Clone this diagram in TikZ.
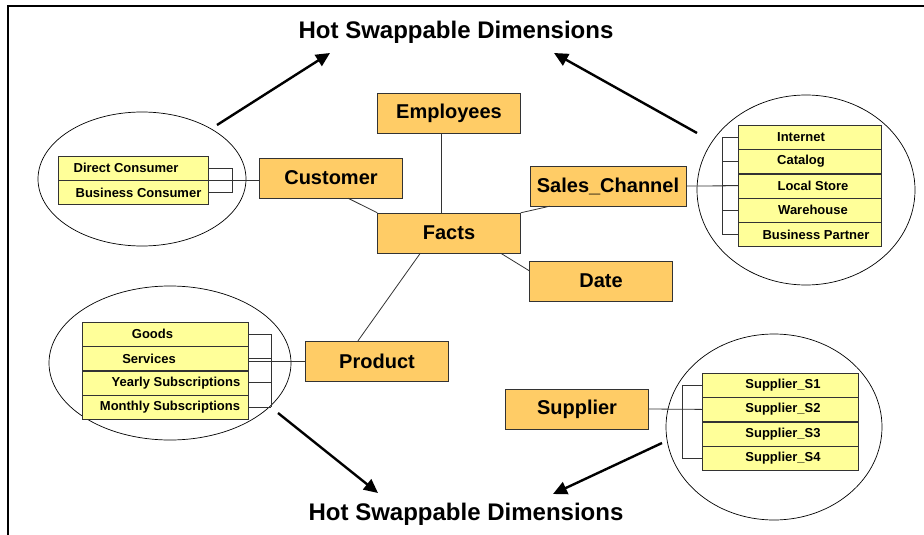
\documentclass[tikz,border=0pt]{standalone}
\usepackage{fontspec}
\setsansfont{Liberation Sans}
\usepackage{tikz}
\usetikzlibrary{arrows.meta,positioning,shapes.geometric}
\tikzset{
  dim/.style={draw=edge, fill=dimfill, font=\sffamily\bfseries\fontsize{20}{24}\selectfont, minimum width=#1, minimum height=40pt, inner sep=0pt},
  dim/.default=143pt,
  item/.style={draw=edge, fill=itemfill, font=\sffamily\bfseries\fontsize{13}{15}\selectfont, minimum width=#1, minimum height=24pt, inner sep=0pt},
  nudge/.style={execute at begin node={\hspace*{#1}}},
  ell/.style={draw, ellipse, inner sep=0pt, line width=0.7pt},
  link/.style={draw=edge, line width=0.8pt},
  swap/.style={-{Triangle[length=14pt,width=13pt]}, line width=2.4pt},
  hdr/.style={font=\sffamily\bfseries\fontsize{24}{28}\selectfont},
}
\definecolor{dimfill}{HTML}{FFCC66}
\definecolor{itemfill}{HTML}{FFFF99}
\definecolor{edge}{HTML}{333333}

\begin{document}
\begin{tikzpicture}[x=1pt, y=-1pt]
  \useasboundingbox (0,0) rectangle (924,535);
  \draw[line width=2.2pt] (924,6) -- (8,6) -- (8,535);

  % headings
  \node[hdr] (hsTop) at (456,32) {Hot Swappable Dimensions};
  \node[hdr] (hsBot) at (466,514) {Hot Swappable Dimensions};

  % star schema
  \node[dim] (emp) at (449,113) {Employees};
  \node[dim] (cust) at (331,178) {Customer};
  \node[dim=156pt] (sales) at (608,186) {Sales\_Channel};
  \node[dim] (facts) at (449,233) {Facts};
  \node[dim] (date) at (601,281) {Date};
  \node[dim] (prod) at (377,361) {Product};
  \node[dim] (sup) at (577,409) {Supplier};

  \draw[link] ([xshift=-8pt]emp.south) -- ([xshift=-8pt]facts.north);
  \draw[link] ([xshift=17pt]cust.south) -- (facts.north west);
  \draw[link] ([xshift=20pt]sales.south west) -- (facts.north east);
  \draw[link] ([xshift=-20pt]facts.south east) -- ([yshift=-10pt]date.north west);
  \draw[link] ([xshift=43pt]facts.south west) -- ([xshift=-19pt]prod.north);

  % customer variants
  \node[ell, minimum width=208pt, minimum height=134pt] (custEll) at (142,179) {};
  \node[item=150pt, nudge=-14pt] (dc) at (133,168) {Direct Consumer};
  \node[item=150pt, nudge=11pt, below=0pt of dc] (bc) {Business Consumer};
  \coordinate (custBar) at (232,0);
  \draw[link] (dc.east) -- (dc.east -| custBar) -- (bc.east -| custBar) -- (bc.east);
  \draw[link] (cust.west |- dc.south east) -- (dc.south east);

  % sales channel variants
  \node[ell, minimum width=218pt, minimum height=190pt] (salesEll) at (806,190) {};
  \node[item=143pt, nudge=-18pt] (inet) at (810,137) {Internet};
  \node[item=143pt, nudge=-18pt, below=0pt of inet] (cat) {Catalog};
  \node[item=143pt, nudge=6pt, below=0pt of cat] (loc) {Local Store};
  \node[item=143pt, nudge=6pt, below=0pt of loc] (wh) {Warehouse};
  \node[item=143pt, nudge=12pt, below=0pt of wh] (bp) {Business Partner};
  \coordinate (salesBar) at (722,0);
  \foreach \r in {inet,cat,loc,wh,bp} \draw[link] (\r.west) -- (\r.west -| salesBar);
  \draw[link] (inet.west -| salesBar) -- (bp.west -| salesBar);
  \draw[link] (sales.east) -- (loc.west);

  % product variants
  \node[ell, minimum width=242pt, minimum height=154pt] (prodEll) at (170,363) {};
  \node[item=166pt, nudge=-25pt] (goods) at (165,334) {Goods};
  \node[item=166pt, nudge=-32pt, below=0pt of goods] (serv) {Services};
  \node[item=166pt, nudge=22pt, below=0pt of serv] (yearly) {Yearly Subscriptions};
  \node[item=166pt, nudge=10pt, below=0pt of yearly] (monthly) {Monthly Subscriptions};
  \coordinate (prodBar) at (271,0);
  \foreach \r in {goods,serv,yearly,monthly} \draw[link] (\r.east) -- (\r.east -| prodBar);
  \draw[link] (goods.east -| prodBar) -- (monthly.east -| prodBar);
  \draw[link] (prod.west) -- (prod.west -| serv.east);

  % supplier variants
  \node[ell, minimum width=216pt, minimum height=186pt] (supEll) at (774,427) {};
  \node[item=156pt, nudge=6pt] (s1) at (780,385) {Supplier\_S1};
  \node[item=156pt, nudge=6pt, below=0pt of s1] (s2) {Supplier\_S2};
  \node[item=156pt, nudge=6pt, below=0pt of s2] (s3) {Supplier\_S3};
  \node[item=156pt, nudge=6pt, below=0pt of s3] (s4) {Supplier\_S4};
  \coordinate (supBar) at (682,0);
  \foreach \r in {s1,s4} \draw[link] (\r.west) -- (\r.west -| supBar);
  \draw[link] (s1.west -| supBar) -- (s4.west -| supBar);
  \draw[link] (sup.east) -- (s2.west);

  % hot swap arrows
  \coordinate (custOut) at (217,125);
  \coordinate (custTip) at (330,53);
  \coordinate (salesOut) at (697,133);
  \coordinate (salesTip) at (554,53);
  \coordinate (prodOut) at (278,413);
  \coordinate (prodTip) at (378,493);
  \coordinate (supOut) at (662,443);
  \coordinate (supTip) at (553,494);
  \foreach \u/\v in {custOut/custTip,salesOut/salesTip,prodOut/prodTip,supOut/supTip} \draw[swap] (\u) -- (\v);
\end{tikzpicture}
\end{document}
